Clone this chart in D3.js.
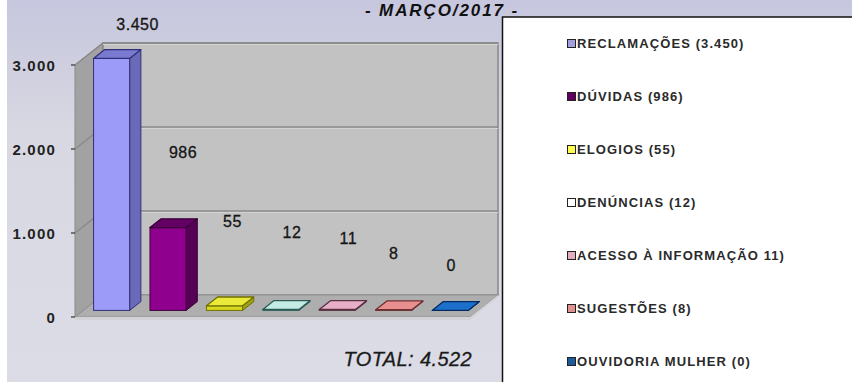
<!DOCTYPE html>
<html><head><meta charset="utf-8">
<script src="https://cdn.jsdelivr.net/npm/d3@7"></script>
<style>html,body{margin:0;padding:0;background:#fff}svg{display:block}</style>
</head><body>
<script>
// ---- data ----
const categories = ["RECLAMAÇÕES","DÚVIDAS","ELOGIOS","DENÚNCIAS","ACESSO À INFORMAÇÃO","SUGESTÕES","OUVIDORIA MULHER"];
const values = [3450, 986, 55, 12, 11, 8, 0];
const valueLabels = ["3.450","986","55","12","11","8","0"];
const legendLabels = ["RECLAMAÇÕES (3.450)","DÚVIDAS (986)","ELOGIOS (55)","DENÚNCIAS (12)","ACESSO À INFORMAÇÃO 11)","SUGESTÕES (8)","OUVIDORIA MULHER (0)"];
const yTicks = [0, 1000, 2000, 3000];
const yTickLabels = ["0","1.000","2.000","3.000"];
const titleText = "- MARÇO/2017 -";
const totalText = "TOTAL: 4.522";

// ---- styles ----
const frontColors = ["#9c9cf8","#90008e","#d8d820","#b4e0d8","#e0a4c0","#e08484","#1464c0"];
const topColors   = ["#7a7ad0","#640064","#eaea3a","#c4ece4","#e8b0c8","#e89090","#1c70cc"];
const sideColors  = ["#6a6ab8","#560056","#a0a010","#90c0b8","#c08898","#c06868","#0c4c98"];
const strokeColors= ["#30307a","#3a003a","#707000","#2c5a58","#5a3040","#703030","#002a60"];
const legendColors= ["#a0a0e0","#600060","#ffff50","#ffffff","#e0b0c0","#e09090","#1c5c9c"];
// label nudges relative to bar top (layout only)
const labelNudge = [[26,-34],[15,-76],[8,-85],[11,-77],[11,-71],[0,-57],[1,-45]];

const W = 852, H = 382;
const svg = d3.select("body").append("svg").attr("width", W).attr("height", H);
const defs = svg.append("defs");
const bg = defs.append("linearGradient").attr("id","bg").attr("x1",0).attr("y1",0).attr("x2",0).attr("y2",1);
bg.append("stop").attr("offset","0%").attr("stop-color","#c6c6de");
bg.append("stop").attr("offset","35%").attr("stop-color","#d8d8e2");
bg.append("stop").attr("offset","100%").attr("stop-color","#dcdce6");
svg.append("rect").attr("width",W).attr("height",H).attr("fill","#fff");
svg.append("rect").attr("x",7).attr("width",W-7).attr("height",H).attr("fill","url(#bg)");

// geometry
const x0 = 75, x1 = 470, yBase = 317, yTop = 65;
const DX = 28, DY = -22;          // wall depth
const b0 = 0.3, b1 = 0.7;         // bar depth fraction
const x = d3.scaleBand().domain(categories).range([x0, x1]).paddingInner(0.36).paddingOuter(0.18);
const y = d3.scaleLinear().domain([0, 3000]).range([yBase, yTop]);
const yMax = y.domain()[1];
const P = pts => pts.map(p => p.join(",")).join(" ");

const g = svg.append("g");
// side wall
g.append("polygon").attr("points", P([[x0, y(0)],[x0+DX, y(0)+DY],[x0+DX, y(yMax)+DY],[x0, y(yMax)]]))
  .attr("fill","#a2a2a2").attr("stroke","#8a8a8a").attr("stroke-width",1);
// back wall
g.append("polygon").attr("points", P([[x0+DX, y(0)+DY],[x1+DX, y(0)+DY],[x1+DX, y(yMax)+DY],[x0+DX, y(yMax)+DY]]))
  .attr("fill","#c2c2c2").attr("stroke","#888").attr("stroke-width",1.5);
// gridlines
yTicks.forEach(t => {
  if (t === 0) return;
  const yy = y(t);
  g.append("polyline").attr("points", P([[x0, yy],[x0+DX, yy+DY],[x1+DX, yy+DY]]))
    .attr("fill","none").attr("stroke","#8a8a8a").attr("stroke-width",1.5);
  g.append("line").attr("x1",x0+DX).attr("x2",x1+DX).attr("y1",yy+DY+1.5).attr("y2",yy+DY+1.5)
    .attr("stroke","#d4d4d4").attr("stroke-width",1);
});
// floor
g.append("polygon").attr("points", P([[x0, y(0)],[x1, y(0)],[x1+DX, y(0)+DY],[x0+DX, y(0)+DY]]))
  .attr("fill","#aeaeae").attr("stroke","#909090").attr("stroke-width",1);
g.append("polygon").attr("points", P([[x0, y(0)],[x1, y(0)],[x1+DX, y(0)+DY],[x1+DX, y(0)+DY+2],[x1, y(0)+3],[x0, y(0)+3]]))
  .attr("fill","#d2d2d6");

// y axis ticks & labels
yTicks.forEach((t, i) => {
  g.append("line").attr("x1",x0-4).attr("x2",x0).attr("y1",y(t)).attr("y2",y(t)).attr("stroke","#333").attr("stroke-width",1.2);
  g.append("text").attr("x",56).attr("y",y(t)+5.5).attr("text-anchor","end")
    .attr("font-family","Liberation Sans, Arial, sans-serif").attr("font-size",15).attr("font-weight","bold")
    .attr("letter-spacing",1.2).attr("fill","#222").text(yTickLabels[i]);
});

// bars
categories.forEach((c, i) => {
  const v = Math.min(values[i], yMax);
  const ox = DX*b0, oy = DY*b0, dx = DX*(b1-b0), dy = DY*(b1-b0);
  const xl = x(c) + ox, xr = x(c) + x.bandwidth() + ox;
  const yb = y(0) + oy, yt = y(v) + oy;
  const st = strokeColors[i];
  g.append("polygon").attr("points", P([[xr, yb],[xr+dx, yb+dy],[xr+dx, yt+dy],[xr, yt]]))
    .attr("fill", sideColors[i]).attr("stroke", st).attr("stroke-width",1).attr("stroke-linejoin","round");
  g.append("rect").attr("x", xl).attr("y", yt).attr("width", xr-xl).attr("height", Math.max(0, yb-yt))
    .attr("fill", frontColors[i]).attr("stroke", st).attr("stroke-width",1);
  g.append("polygon").attr("points", P([[xl, yt],[xr, yt],[xr+dx, yt+dy],[xl+dx, yt+dy]]))
    .attr("fill", topColors[i]).attr("stroke", st).attr("stroke-width",1.3).attr("stroke-linejoin","round");
  const cx = (xl + xr)/2;
  g.append("text").attr("x", cx + labelNudge[i][0]).attr("y", yt + labelNudge[i][1] + 6)
    .attr("text-anchor","middle").attr("font-family","Liberation Sans, Arial, sans-serif")
    .attr("font-size",16).attr("fill","#151515").attr("stroke","#151515").attr("stroke-width",0.3)
    .attr("letter-spacing",0.5).text(valueLabels[i]);
});

// total
svg.append("text").attr("x",472).attr("y",366).attr("text-anchor","end")
  .attr("font-family","Liberation Sans, Arial, sans-serif").attr("font-size",20).attr("font-style","italic")
  .attr("fill","#1a1a1a").attr("stroke","#1a1a1a").attr("stroke-width",0.3).attr("letter-spacing",0.4).text(totalText);

// title
svg.append("text").attr("x",442).attr("y",16).attr("text-anchor","middle")
  .attr("font-family","Liberation Sans, Arial, sans-serif").attr("font-size",17).attr("font-style","italic")
  .attr("font-weight","bold").attr("letter-spacing",1.9).attr("fill","#111").text(titleText);

// legend
const lg = svg.append("g");
lg.append("rect").attr("x",502.5).attr("y",17).attr("width",W).attr("height",H)
  .attr("fill","#fff").attr("stroke","#111").attr("stroke-width",1.5);
legendLabels.forEach((t, i) => {
  const cy = 43 + i*53;
  lg.append("rect").attr("x",567.5).attr("y",cy-3.5).attr("width",8).attr("height",8)
    .attr("fill",legendColors[i]).attr("stroke","#222").attr("stroke-width",1);
  lg.append("text").attr("x",577).attr("y",cy+5)
    .attr("font-family","Liberation Sans, Arial, sans-serif").attr("font-size",13).attr("font-weight","bold")
    .attr("letter-spacing",1.1).attr("fill","#2a2a2a").text(t);
});
</script>
</body></html>
